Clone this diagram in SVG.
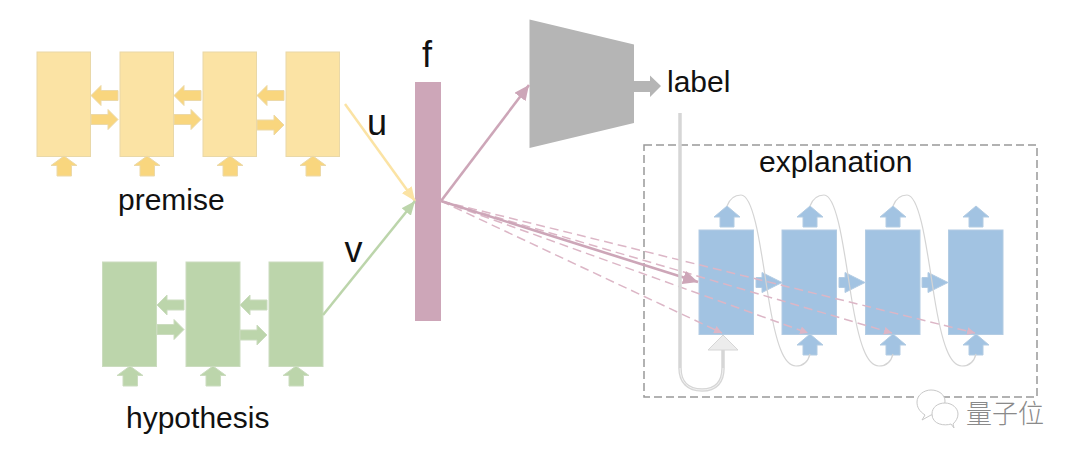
<svg xmlns="http://www.w3.org/2000/svg" width="1080" height="460" viewBox="0 0 1080 460">
<style>
text{font-family:"Liberation Sans",Arial,sans-serif;fill:#111;font-size:30px}
.y{fill:#fbe3a4;stroke:#e9d8a8;stroke-width:1}
.ya{fill:#f9d67e;stroke:#ecd9a8;stroke-width:1}
.g{fill:#bcd5ab;stroke:#cbdcbf;stroke-width:1}
.ga{fill:#bcd5ab;stroke:#cbdcbf;stroke-width:1}
.b{fill:#a2c3e2;stroke:#b3cce3;stroke-width:1}
.dash{fill:none;stroke:#dcb6c6;stroke-width:1.5;stroke-dasharray:9 5}
.pk{fill:none;stroke:#cda6b8;stroke-width:2.6}
.thin{fill:none;stroke:#d4d4d4;stroke-width:1.2}
</style>
<defs>
<path id="up" d="M0,0 L13,9.500 L7.500,9.500 L7.500,20 L-7,20 L-7,9.500 L-13,9.500 Z"/>
<path id="upb" d="M0,0 L13,11 L7,11 L7,21 L-7,21 L-7,11 L-13,11 Z"/>
<path id="l" d="M0,0 L10,-10 L10,-5 L27,-5 L27,5 L10,5 L10,10 Z"/>
<path id="r" d="M27,0 L17,-10 L17,-5 L0,-5 L0,5 L17,5 L17,10 Z"/>
<path id="rb" d="M26,0 L6,-10 L6,-5 L0,-5 L0,5 L6,5 L6,10 Z"/>
<marker id="mp" markerUnits="userSpaceOnUse" markerWidth="16" markerHeight="14" refX="15" refY="7" orient="auto"><path d="M0,0 L15,7 L0,14 Z" fill="#cda6b8"/></marker>
<marker id="md" markerUnits="userSpaceOnUse" markerWidth="9" markerHeight="8" refX="8" refY="4" orient="auto"><path d="M0,0 L8,4 L0,8 Z" fill="#dcb6c6"/></marker>
<marker id="my" markerUnits="userSpaceOnUse" markerWidth="15" markerHeight="12" refX="14" refY="6" orient="auto"><path d="M0,0 L14,6 L0,12 Z" fill="#fbe3a4"/></marker>
<marker id="mg" markerUnits="userSpaceOnUse" markerWidth="15" markerHeight="12" refX="14" refY="6" orient="auto"><path d="M0,0 L14,6 L0,12 Z" fill="#bcd5ab"/></marker>
</defs>

<g id="premise">
<rect class="y" x="37" y="52" width="53.500" height="104.500"/>
<rect class="y" x="120" y="52" width="53.500" height="104.500"/>
<rect class="y" x="203" y="52" width="53.500" height="104.500"/>
<rect class="y" x="286" y="52" width="53.500" height="104.500"/>
<g class="ya">
<use href="#l" x="91" y="95.500"/><use href="#l" x="174" y="95.500"/><use href="#l" x="257" y="95.500"/>
<use href="#r" x="91" y="119.500"/><use href="#r" x="174" y="119.500"/><use href="#r" x="257" y="125"/>
<use href="#up" x="64" y="156"/><use href="#up" x="147" y="156"/><use href="#up" x="230" y="156"/><use href="#up" x="313" y="156"/>
</g>
<text x="118" y="210">premise</text>
</g>

<g id="hypothesis">
<rect class="g" x="102.500" y="262" width="54" height="104.500"/>
<rect class="g" x="186" y="262" width="54" height="104.500"/>
<rect class="g" x="269" y="262" width="54" height="104.500"/>
<g class="ga">
<use href="#l" x="157" y="305"/><use href="#l" x="240" y="305"/>
<use href="#r" x="157" y="329.500"/><use href="#r" x="240" y="335"/>
<use href="#up" x="130" y="366"/><use href="#up" x="213" y="366"/><use href="#up" x="296" y="366"/>
</g>
<text x="126" y="428">hypothesis</text>
</g>

<g id="f">
<rect x="415" y="82" width="26" height="239" fill="#cda6b8"/>
<text x="422" y="67" style="font-size:36px">f</text>
</g>

<g id="classifier">
<path d="M529.500,19.500 L634,44.500 L634,123 L529.500,148 Z" fill="#b5b5b5"/>
<path d="M661,86 L650,75.500 L650,81 L634,81 L634,92 L650,92 L650,97 Z" fill="#b5b5b5"/>
<text x="667" y="91.500">label</text>
</g>

<g id="explanation">
<rect x="644" y="145" width="393" height="252" fill="none" stroke="#999" stroke-width="1.500" stroke-dasharray="8 4"/>
<text x="759" y="172">explanation</text>
<rect class="b" x="699" y="230" width="54.500" height="104.500"/>
<rect class="b" x="782" y="230" width="54.500" height="104.500"/>
<rect class="b" x="865.500" y="230" width="54.500" height="104.500"/>
<rect class="b" x="948.500" y="230" width="54.500" height="104.500"/>
<g class="b">
<use href="#upb" x="727" y="206"/><use href="#upb" x="810" y="206"/><use href="#upb" x="893" y="206"/><use href="#upb" x="976" y="206"/>
<use href="#upb" x="810" y="334"/><use href="#upb" x="893" y="334"/><use href="#upb" x="976" y="334"/>
<use href="#rb" x="756" y="282.500"/><use href="#rb" x="839" y="282.500"/><use href="#rb" x="922" y="282.500"/>
</g>
<path class="thin" d="M727,206 C730,198 736,195 741,195 C754,195 761,250 768,295 C776,345 784,366 796,366 C803,366 808,362 810,354"/>
<path class="thin" d="M810,206 C813,198 819,195 824,195 C837,195 844,250 851,295 C859,345 867,366 879,366 C886,366 891,362 893,354"/>
<path class="thin" d="M893,206 C896,198 902,195 907,195 C920,195 927,250 934,295 C942,345 950,366 962,366 C969,366 974,362 976,354"/>
</g>

<g id="connectors">
<path d="M345,104 L415,201" fill="none" stroke="#fbe3a4" stroke-width="2.500" marker-end="url(#my)"/>
<path d="M323,315 L415,201" fill="none" stroke="#bcd5ab" stroke-width="2.500" marker-end="url(#mg)"/>
<text x="367" y="134.500" style="font-size:36px">u</text>
<text x="344.500" y="262" style="font-size:36px">v</text>
<path class="pk" d="M441,201 L529,85" marker-end="url(#mp)"/>
<path class="dash" d="M441,201 L722,333" marker-end="url(#md)"/>
<path class="dash" d="M441,201 L808,333" marker-end="url(#md)"/>
<path class="dash" d="M441,201 L892,333" marker-end="url(#md)"/>
<path class="dash" d="M441,201 L975,333" marker-end="url(#md)"/>
<path class="pk" d="M441,201 L698,282" marker-end="url(#mp)"/>
<path d="M680,113 L680,368 C680,382 688,390 702,390 C716,390 723,382 723,368 L723,350" fill="none" stroke="#d6d6d6" stroke-width="3.500"/>
<path d="M680,368 C680,382 688,390 702,390 C716,390 723,382 723,368" fill="none" stroke="#f2f2f2" stroke-width="1"/>
<path d="M723,335 L738,350 L708,350 Z" fill="#ececec" stroke="#d6d6d6"/>
</g>

<g id="watermark">
<g fill="#fff" stroke="#c8c8c8" stroke-width="1">
<path d="M922,420 L925,415 C919,411 917,407 917,402 C917,395 924,390 931,390 C939,390 945,395 945,401 C945,409 939,415 931,415 Z"/>
<path d="M954,428 L951,424 C945,426 932,425 932,414 C932,407 938,403 945,403 C952,403 958,408 958,414 C958,418 956,421 953,424 Z"/>
</g>
<text x="966" y="423" style="font-family:'Noto Sans CJK SC',sans-serif;font-size:26px;fill:#8a8a8a;font-weight:300">量子位</text>
</g>
</svg>
